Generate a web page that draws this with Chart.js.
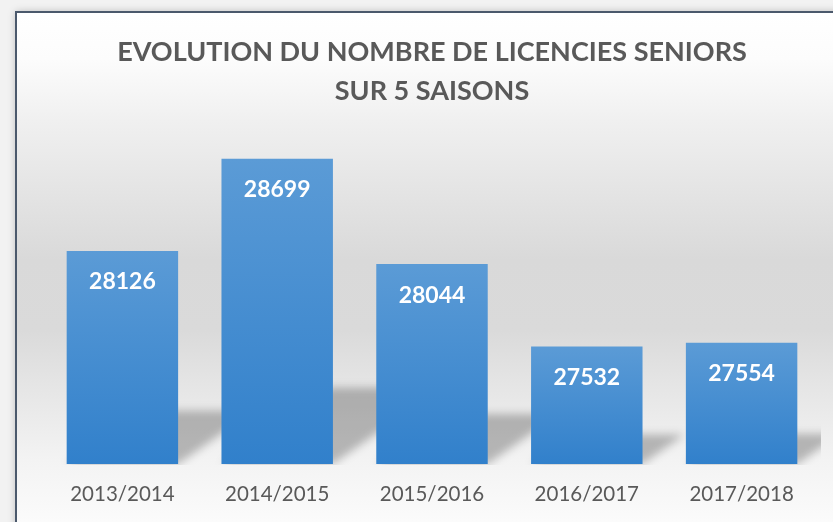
<!DOCTYPE html>
<html>
<head>
<meta charset="utf-8">
<script src="https://cdn.jsdelivr.net/npm/chart.js@4/dist/chart.umd.min.js"></script>
<style>
  html, body { margin: 0; padding: 0; background: #eeeeee; }
  #wrap { width: 833px; height: 522px; position: relative; }
</style>
</head>
<body>
<div id="wrap"><canvas id="licChart"></canvas></div>
<script>
// données
const seasons = ['2013/2014', '2014/2015', '2015/2016', '2016/2017', '2017/2018'];
const licences = [28126, 28699, 28044, 27532, 27554];
const titleLines = ['EVOLUTION DU NOMBRE DE LICENCIES SENIORS', 'SUR 5 SAISONS'];
const yMin = 26800;
const yMax = 29000;

// fond : cadre + dégradé gris
const backgroundPlugin = {
  id: 'frameBackground',
  beforeDraw(chart) {
    const ctx = chart.ctx;
    const W = chart.width, H = chart.height;
    ctx.save();
    // zone extérieure
    ctx.fillStyle = '#f2f2f2';
    ctx.fillRect(0, 0, W, H);

    // ombre du cadre
    ctx.shadowColor = 'rgba(0,0,0,0.25)';
    ctx.shadowBlur = 8;
    ctx.fillStyle = '#ffffff';
    ctx.fillRect(16, 12, W, H);
    ctx.shadowColor = 'transparent';
    ctx.shadowBlur = 0;

    // dégradé intérieur (stops exprimés en y)
    const top = 13;
    const g = ctx.createLinearGradient(0, top, 0, H);
    const stops = [[13, '#ffffff'], [60, '#fcfcfc'], [120, '#f0f0f0'], [260, '#d9d9d9'],
                   [330, '#dadada'], [390, '#e6e6e6'], [460, '#f3f3f3'], [522, '#fbfbfb']];
    stops.forEach(([y, c]) => g.addColorStop((y - top) / (H - top), c));
    ctx.fillStyle = g;
    ctx.fillRect(17, top, W, H);

    // bordure
    ctx.strokeStyle = '#4b596c';
    ctx.lineWidth = 2;
    ctx.beginPath();
    ctx.moveTo(16, H + 2);
    ctx.lineTo(16, 12);
    ctx.lineTo(W + 2, 12);
    ctx.stroke();
    ctx.restore();
  }
};

// ombre en perspective derrière chaque barre
const shadowPlugin = {
  id: 'barShadow',
  beforeDatasetsDraw(chart) {
    const ctx = chart.ctx;
    const area = chart.chartArea;
    const bottom = area.bottom;
    const meta = chart.getDatasetMeta(0);
    ctx.save();
    ctx.beginPath();
    ctx.rect(0, 0, area.right + 2, bottom + 1);
    ctx.clip();
    ctx.filter = 'blur(4px)';
    ctx.fillStyle = 'rgba(0,0,0,0.25)';
    meta.data.forEach(bar => {
      const left = bar.x - bar.width / 2;
      const right = bar.x + bar.width / 2;
      const sh = (bottom - bar.y) * 0.25;
      const dx = sh * 1.42;
      ctx.beginPath();
      ctx.moveTo(left, bottom);
      ctx.lineTo(right, bottom);
      ctx.lineTo(right + dx, bottom - sh);
      ctx.lineTo(left + dx, bottom - sh);
      ctx.closePath();
      ctx.fill();
    });
    ctx.restore();
  }
};

// valeurs en blanc dans les barres
const valueLabels = {
  id: 'valueLabels',
  afterDatasetsDraw(chart) {
    const ctx = chart.ctx;
    const meta = chart.getDatasetMeta(0);
    ctx.save();
    ctx.font = 'bold 23px Lato';
    ctx.fillStyle = '#ffffff';
    ctx.textAlign = 'center';
    ctx.textBaseline = 'middle';
    meta.data.forEach((bar, i) => {
      ctx.fillText(String(licences[i]), bar.x, bar.y + 31);
    });
    ctx.restore();
  }
};

const ctx = document.getElementById('licChart').getContext('2d');

const licChart = new Chart(ctx, {
  type: 'bar',
  data: {
    labels: seasons,
    datasets: [{
      data: licences,
      backgroundColor: (c) => {
        const chart = c.chart;
        const area = chart.chartArea;
        if (!area || c.type !== 'data') return '#4a8fd3';
        const yTop = chart.scales.y.getPixelForValue(c.raw);
        const g = chart.ctx.createLinearGradient(0, yTop, 0, area.bottom);
        g.addColorStop(0, '#5b9bd6');
        g.addColorStop(1, '#3180cb');
        return g;
      },
      borderWidth: 0,
      categoryPercentage: 1,
      barPercentage: 0.72
    }]
  },
  options: {
    responsive: true,
    maintainAspectRatio: false,
    animation: false,
    layout: { padding: { top: 12, left: 45, right: 14, bottom: 12 } },
    plugins: {
      legend: { display: false },
      tooltip: { enabled: false },
      title: {
        display: true,
        text: titleLines,
        color: '#595959',
        font: { family: 'Lato', weight: 'bold', size: 27, lineHeight: 39 / 27 },
        padding: { top: 20.5, bottom: 0 }
      }
    },
    scales: {
      x: {
        grid: { display: false, drawTicks: false },
        border: { display: false },
        ticks: {
          color: '#595959',
          font: { family: 'Lato', size: 20.5 },
          padding: 18
        },
        afterFit(scale) {
          scale.height = 46;
        }
      },
      y: {
        display: false,
        min: yMin,
        max: yMax
      }
    }
  },
  plugins: [backgroundPlugin, shadowPlugin, valueLabels]
});
</script>
</body>
</html>
